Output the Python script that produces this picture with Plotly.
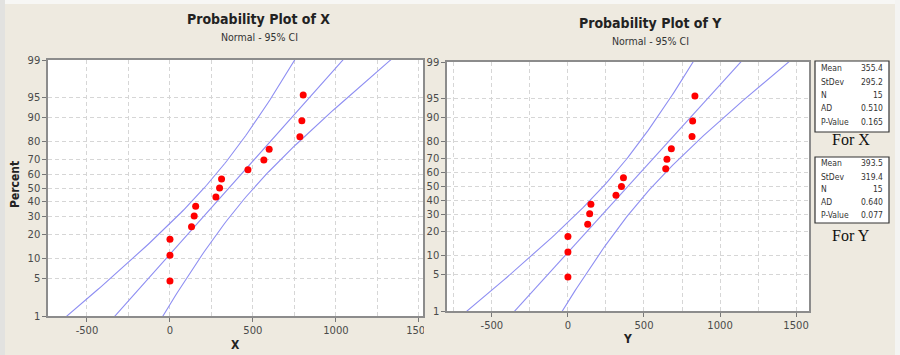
import numpy as np
import plotly.graph_objects as go
from statistics import NormalDist

W, H = 900, 355

# ---- data -------------------------------------------------------------
x_values = [0, 0, 0, 130, 146, 155, 277, 299, 311, 470, 566, 598, 783, 795, 803]
y_values = [0, 0, 0, 130, 143, 151, 316, 352, 365, 643, 651, 680, 816, 820, 835]

pct_ticks = [1, 5, 10, 20, 30, 40, 50, 60, 70, 80, 90, 95, 99]
x_ticks = [-500, 0, 500, 1000, 1500]

stat_labels = ["Mean", "StDev", "N", "AD", "P-Value"]
x_stat_text = ["355.4", "295.2", "15", "0.510", "0.165"]
y_stat_text = ["393.5", "319.4", "15", "0.640", "0.077"]

x_mean, x_sd, x_n = 355.4, 295.2, 15
y_mean, y_sd, y_n = 393.5, 319.4, 15

nd = NormalDist()


def px(x):
    return x / W


def py(y):
    return 1 - y / H


def plot_positions(n):
    # median ranks (Benard)
    return [nd.inv_cdf((i - 0.3) / (n + 0.4)) for i in range(1, n + 1)]


def ci_curves(mean, sd, n):
    z = np.linspace(-3.2, 3.2, 129)
    fit = mean + sd * z
    half = 1.96 * sd * np.sqrt(1.0 / n + z ** 2 / (2.0 * n))
    return z, fit, fit - half, fit + half


LINE = "#8e8ef2"
RED = "#ff0000"
BG = "#eeeae0"
GRID = "#d6d6d6"
GRIDDASH = "4px,3px"
TICKFONT = dict(family="DejaVu Sans", size=10, color="#4a4a4a")

fig = go.Figure()

panels = [
    dict(vals=x_values, mean=x_mean, sd=x_sd, n=x_n, xa="x", ya="y"),
    dict(vals=y_values, mean=y_mean, sd=y_sd, n=y_n, xa="x2", ya="y2"),
]

for p in panels:
    z, fit, lo, hi = ci_curves(p["mean"], p["sd"], p["n"])
    for curve in (lo, fit, hi):
        fig.add_trace(go.Scatter(x=curve, y=z, mode="lines",
                                 line=dict(color=LINE, width=1.1),
                                 xaxis=p["xa"], yaxis=p["ya"],
                                 hoverinfo="skip", showlegend=False))
    zpos = plot_positions(p["n"])
    fig.add_trace(go.Scatter(x=sorted(p["vals"]), y=zpos, mode="markers",
                             marker=dict(color=RED, size=7),
                             xaxis=p["xa"], yaxis=p["ya"], showlegend=False))

zmax = nd.inv_cdf(0.99)
ytickvals = [nd.inv_cdf(t / 100) for t in pct_ticks]
yticktext = [str(t) for t in pct_ticks]

common_x = dict(
    tickvals=x_ticks, ticktext=[str(t) for t in x_ticks],
    ticks="outside", ticklen=4, tickcolor="#777777",
    showgrid=True, gridcolor=GRID, griddash=GRIDDASH, gridwidth=1,
    minor=dict(tickvals=[-750, -250, 250, 750, 1250], showgrid=True,
               gridcolor=GRID, griddash=GRIDDASH, ticks=""),
    showline=True, linecolor="#8c8c8c", linewidth=1.5, mirror=True,
    zeroline=False, tickfont=TICKFONT, automargin=False,
)
common_y = dict(
    range=[-zmax, zmax], tickvals=ytickvals, ticktext=yticktext,
    ticks="outside", ticklen=4, tickcolor="#777777",
    showgrid=True, gridcolor=GRID, griddash=GRIDDASH, gridwidth=1,
    showline=True, linecolor="#8c8c8c", linewidth=1.5, mirror=True,
    zeroline=False, tickfont=TICKFONT, automargin=False,
)

fig.update_layout(
    width=W, height=H,
    margin=dict(l=0, r=0, t=0, b=0),
    paper_bgcolor=BG, plot_bgcolor="white",
    xaxis=dict(domain=[px(48), px(423)], range=[-735, 1525], anchor="y", **common_x),
    yaxis=dict(domain=[py(316), py(60)], anchor="x", **common_y),
    xaxis2=dict(domain=[px(447), px(809)], range=[-795, 1585], anchor="y2", **common_x),
    yaxis2=dict(domain=[py(311), py(62)], anchor="x2", **common_y),
)

ann = []


def text(x, y, s, size, bold=False, family="DejaVu Sans", color="#222222",
         xanchor="center", angle=0):
    ann.append(dict(x=px(x), y=py(y), xref="paper", yref="paper", text=s,
                    showarrow=False, xanchor=xanchor, yanchor="middle",
                    textangle=angle,
                    font=dict(family=family, size=size, color=color,
                              weight="bold" if bold else "normal")))


TITLE_FONT = "DejaVu Sans Condensed, DejaVu Sans"
text(258, 19, "Probability Plot of X", 14, bold=True, family=TITLE_FONT)
text(259, 37, "Normal - 95% CI", 10.5, family=TITLE_FONT, color="#333333")
text(650, 23, "Probability Plot of Y", 14, bold=True, family=TITLE_FONT)
text(650, 41, "Normal - 95% CI", 10.5, family=TITLE_FONT, color="#333333")
text(235, 345, "X", 12, bold=True, family=TITLE_FONT)
text(627, 339, "Y", 12, bold=True, family=TITLE_FONT)
text(15, 185, "Percent", 12, bold=True, family=TITLE_FONT, angle=-90)

shapes = []
# page edges around the two panels
shapes.append(dict(type="rect", xref="paper", yref="paper", layer="below",
                   x0=0, x1=1, y0=py(4), y1=1, fillcolor="#f7f7f5",
                   line=dict(width=0)))
shapes.append(dict(type="rect", xref="paper", yref="paper", layer="below",
                   x0=0, x1=px(5), y0=0, y1=1, fillcolor="#e2e2e0",
                   line=dict(width=0)))
shapes.append(dict(type="rect", xref="paper", yref="paper", layer="below",
                   x0=px(895), x1=1, y0=0, y1=1, fillcolor="#f4f4f2",
                   line=dict(width=0)))
# right edge of the left panel clips its last tick label
shapes.append(dict(type="rect", xref="paper", yref="paper", layer="above",
                   x0=px(424), x1=px(433), y0=py(336), y1=py(318),
                   fillcolor=BG, line=dict(width=0)))

boxes = [
    dict(top=61, bottom=132, rows=[68, 82, 95, 108, 122], vals=x_stat_text,
         caption="For X", cap_y=140),
    dict(top=157, bottom=223, rows=[163, 177, 189, 202, 215], vals=y_stat_text,
         caption="For Y", cap_y=235),
]
for b in boxes:
    shapes.append(dict(type="rect", xref="paper", yref="paper", layer="above",
                       x0=px(815), x1=px(889), y0=py(b["bottom"]), y1=py(b["top"]),
                       fillcolor="white", line=dict(color="#333333", width=1.2)))
    for lab, val, ry in zip(stat_labels, b["vals"], b["rows"]):
        text(819, ry, lab, 8.5, family="DejaVu Sans Condensed, DejaVu Sans",
             color="#333333", xanchor="left")
        text(885, ry, val, 8.5, family="DejaVu Sans Condensed, DejaVu Sans",
             color="#333333", xanchor="right")
    text(851, b["cap_y"], b["caption"], 16, family="Liberation Serif",
         color="#111111")

fig.update_layout(annotations=ann, shapes=shapes)
fig.write_html("out.html")
